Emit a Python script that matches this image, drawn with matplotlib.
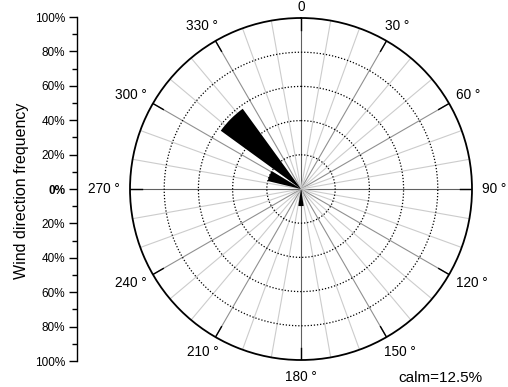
import numpy as np
import matplotlib
matplotlib.use("Agg")
import matplotlib.pyplot as plt

plt.rcParams['font.family'] = ['Liberation Sans', 'DejaVu Sans']

# wind rose data (degrees, % frequency)
directions = [180, 292.5, 315]
freqs = [10, 20, 58]
calm = 12.5
bar_width = 18  # degrees

ring_levels = [20, 40, 60, 80]
angle_ticks = list(range(0, 360, 30))
angle_labels = ["0"] + [f"{a} °" for a in angle_ticks[1:]]
freq_ticks = [-100, -80, -60, -40, -20, 0, 20, 40, 60, 80, 100]

W, H = 508, 387
fig = plt.figure(figsize=(W / 100, H / 100), dpi=100)

# polar axes: centre (301,189), radius 171 px
cx, cy, R = 301, 189, 171
ax = fig.add_axes([(cx - R) / W, (H - cy - R) / H, 2 * R / W, 2 * R / H], projection='polar')
ax.set_theta_zero_location('N')
ax.set_theta_direction(-1)
ax.set_ylim(0, 100)
ax.grid(False)
ax.set_xticks([])
ax.set_yticks([])
ax.spines['polar'].set_linewidth(1.3)
ax.spines['polar'].set_color('black')

# spokes
for a in range(0, 360, 10):
    t = np.deg2rad(a)
    if a % 90 == 0:
        c = '#606060'
    elif a % 30 == 0:
        c = '#909090'
    else:
        c = '#cccccc'
    ax.plot([t, t], [0, 100], color=c, lw=0.8, zorder=1)

# rings
th = np.linspace(0, 2 * np.pi, 400)
for r in ring_levels:
    ax.plot(th, np.full_like(th, r), color='black', lw=0.9, ls=(0, (1, 1.5)), zorder=2)

# ticks on the outer circle
for a in angle_ticks:
    t = np.deg2rad(a)
    ax.plot([t, t], [93, 100], color='black', lw=1.0, zorder=3)

# bars
ax.bar(np.deg2rad(directions), freqs, width=np.deg2rad(bar_width),
       color='black', edgecolor='none', zorder=4)

# angle labels: anchored 10 px outside the circle, aligned by direction
renderer = fig.canvas.get_renderer()
for a, lab in zip(angle_ticks, angle_labels):
    t = np.deg2rad(a)
    s, c = np.sin(t), np.cos(t)
    txt = ax.annotate(lab, xy=(t, 100), xytext=(0, 0), textcoords='offset pixels',
                      ha='center', va='center', fontsize=9.8, annotation_clip=False)
    bb = txt.get_window_extent(renderer)
    dx = 10 * s + 0.5 * s * bb.width
    dy = 10 * c + 0.5 * c * bb.height
    top = (H - cy) + R * c + dy + bb.height / 2
    if top > H:
        dy -= top - H
    txt.xyann = (dx, dy)

# left frequency scale
lax = fig.add_axes([76.5 / W, (H - cy - 172) / H, 0.001, 344 / H])
lax.set_ylim(-100, 100)
for sp in ['right', 'top', 'bottom']:
    lax.spines[sp].set_visible(False)
lax.spines['left'].set_linewidth(1.0)
lax.set_xticks([])
lax.set_yticks(freq_ticks)
lax.set_yticklabels([f"{abs(v)}%" for v in freq_ticks], fontsize=8.5)
lax.set_yticks(range(-90, 100, 20), minor=True)
lax.tick_params(axis='y', which='major', length=6, width=1.0, pad=2)
lax.tick_params(axis='y', which='minor', length=3.5, width=1.0)
lax.get_yticklabels()[5].set_fontweight('bold')
lax.patch.set_visible(False)

fig.text(22 / W, 1 - 191 / H, "Wind direction frequency", rotation=90,
         ha='center', va='center', fontsize=11.5)
fig.text(398 / W, 1 - 378 / H, f"calm={calm}%", ha='left', va='center', fontsize=11)

fig.savefig("out.png", dpi=100)
